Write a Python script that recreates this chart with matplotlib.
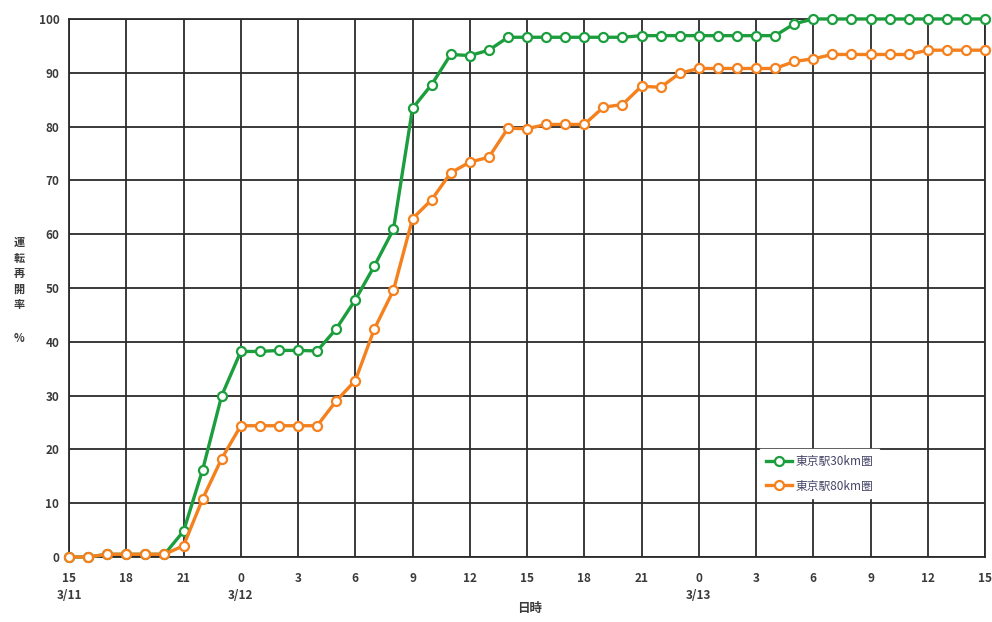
import matplotlib
matplotlib.use("Agg")
import matplotlib.pyplot as plt

plt.rcParams['font.family'] = ['Noto Sans CJK JP', 'DejaVu Sans']

# 3/11 15:00 から 1時間ごと (0..48時間)
hours = list(range(49))
tick_hours = list(range(0, 49, 3))
tick_labels = ["15\n3/11", "18", "21", "0\n3/12", "3", "6", "9", "12", "15", "18", "21",
               "0\n3/13", "3", "6", "9", "12", "15"]

# 東京駅30km圏の運転再開率 (%)
rate_30km = [0, 0, 0.5, 0.5, 0.5, 0.5, 4.8, 16.2, 30.0, 38.2,
             38.2, 38.4, 38.4, 38.3, 42.4, 47.8, 54.1, 60.9, 83.4, 87.8,
             93.4, 93.2, 94.2, 96.6, 96.6, 96.6, 96.6, 96.6, 96.6, 96.6,
             96.9, 96.9, 96.9, 96.9, 96.9, 96.9, 96.9, 96.9, 99.1, 100,
             100, 100, 100, 100, 100, 100, 100, 100, 100]
# 東京駅80km圏の運転再開率 (%)
rate_80km = [0, 0, 0.5, 0.5, 0.5, 0.5, 2.1, 10.8, 18.3, 24.4,
             24.4, 24.4, 24.4, 24.4, 29.0, 32.8, 42.4, 49.6, 62.9, 66.4,
             71.4, 73.4, 74.3, 79.7, 79.6, 80.4, 80.4, 80.4, 83.6, 84.1,
             87.5, 87.3, 89.9, 90.8, 90.8, 90.8, 90.8, 90.8, 92.1, 92.6,
             93.4, 93.4, 93.4, 93.4, 93.4, 94.2, 94.2, 94.2, 94.2]

green = "#1c9e3e"
orange = "#f5801e"
text_color = "#3a3a3a"

fig = plt.figure(figsize=(9.92, 6.22), dpi=100)
ax = fig.add_axes([0.0696, 0.1045, 0.9234, 0.865])

ax.plot(hours, rate_30km, color=green, lw=2.4, marker='o', ms=6.5, mfc='white',
        mec=green, mew=1.6, clip_on=False, zorder=3, label="東京駅30km圏")
ax.plot(hours, rate_80km, color=orange, lw=2.4, marker='o', ms=6.5, mfc='white',
        mec=orange, mew=1.6, clip_on=False, zorder=4, label="東京駅80km圏")

ax.set_xlim(0, 48)
ax.set_ylim(0, 100)
ax.set_xticks(tick_hours)
ax.set_xticklabels(tick_labels, fontsize=8.5, color=text_color, fontweight='bold',
                   linespacing=1.35)
ax.set_yticks(range(0, 101, 10))
ax.set_yticklabels([str(v) for v in range(0, 101, 10)], fontsize=8.5,
                   color=text_color, fontweight='bold')
ax.tick_params(axis='x', length=0, pad=11)
ax.tick_params(axis='y', length=0, pad=7)
ax.grid(True, color="#2b2b2b", lw=1.3)
ax.set_axisbelow(True)
for s in ax.spines.values():
    s.set_color("#2b2b2b")
    s.set_linewidth(1.3)

leg = ax.legend(loc='upper left', bbox_to_anchor=(0.754, 0.2),
                fontsize=8.5, frameon=True, fancybox=False, handlelength=2.2,
                borderpad=0.5, labelspacing=0.95, handletextpad=0.3, borderaxespad=0)
leg.get_frame().set_facecolor('white')
leg.get_frame().set_edgecolor('white')
leg.get_frame().set_alpha(1)
for t in leg.get_texts():
    t.set_color("#444466")

fig.text(0.534, 0.012, "日時", ha='center', va='bottom', fontsize=9,
         color=text_color, fontweight='bold')
fig.text(0.019, 0.56, "運\n転\n再\n開\n率", ha='center', va='center', fontsize=8,
         color=text_color, fontweight='bold', linespacing=1.25)
fig.text(0.019, 0.455, "%", ha='center', va='center', fontsize=8,
         color=text_color, fontweight='bold')

fig.savefig("out.png", dpi=100)
